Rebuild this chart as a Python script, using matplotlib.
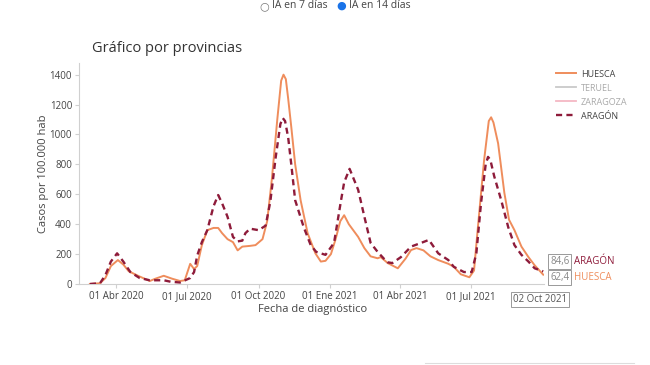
import numpy as np
import pandas as pd
import matplotlib
matplotlib.use('Agg')
import matplotlib.pyplot as plt
import matplotlib.dates as mdates
from matplotlib.lines import Line2D

plt.rcParams['font.family'] = ['Open Sans', 'DejaVu Sans']

# IA 14 dias - HUESCA
huesca_fechas = [
    '2020-02-27', '2020-03-11', '2020-03-18', '2020-03-25', '2020-04-03', '2020-04-10',
    '2020-04-17', '2020-05-01', '2020-05-14', '2020-05-21', '2020-06-01', '2020-06-12',
    '2020-06-22', '2020-06-28', '2020-07-05', '2020-07-10', '2020-07-14', '2020-07-20',
    '2020-07-27', '2020-08-04', '2020-08-10', '2020-08-15', '2020-08-22', '2020-08-29',
    '2020-09-04', '2020-09-10', '2020-09-20', '2020-09-27', '2020-10-06', '2020-10-12',
    '2020-10-18', '2020-10-25', '2020-10-30', '2020-11-02', '2020-11-05', '2020-11-08',
    '2020-11-12', '2020-11-17', '2020-11-24', '2020-12-03', '2020-12-13', '2020-12-20',
    '2020-12-26', '2021-01-02', '2021-01-08', '2021-01-14', '2021-01-19', '2021-01-25',
    '2021-02-06', '2021-02-14', '2021-02-22', '2021-03-03', '2021-03-07', '2021-03-16',
    '2021-03-29', '2021-04-08', '2021-04-15', '2021-04-22', '2021-05-01', '2021-05-10',
    '2021-05-20', '2021-06-02', '2021-06-09', '2021-06-18', '2021-06-29', '2021-07-05',
    '2021-07-10', '2021-07-18', '2021-07-24', '2021-07-27', '2021-07-30', '2021-08-05',
    '2021-08-13', '2021-08-19', '2021-08-26', '2021-09-04', '2021-09-13', '2021-09-21',
    '2021-10-02']
huesca_ia = [
    0, 5, 40, 120, 160, 130,
    85, 50, 20, 35, 55, 35,
    20, 25, 135, 100, 120, 260,
    360, 375, 375, 340, 300, 280,
    225, 250, 255, 260, 300, 420,
    700, 1100, 1360, 1400, 1370, 1240,
    1050, 800, 560, 340, 205, 150,
    155, 200, 300, 420, 460, 400,
    315, 240, 185, 172, 180, 140,
    105, 170, 227, 240, 225, 185,
    160, 135, 115, 65, 45, 90,
    380, 830, 1090, 1115, 1080, 940,
    610, 430, 360, 250, 180, 125,
    62.4]

# IA 14 dias - ARAGON
aragon_fechas = [
    '2020-02-27', '2020-03-11', '2020-03-18', '2020-03-25', '2020-04-02', '2020-04-10',
    '2020-04-19', '2020-05-01', '2020-05-14', '2020-06-01', '2020-06-10', '2020-06-22',
    '2020-07-05', '2020-07-10', '2020-07-14', '2020-07-20', '2020-07-27', '2020-08-04',
    '2020-08-10', '2020-08-15', '2020-08-22', '2020-08-29', '2020-09-04', '2020-09-10',
    '2020-09-14', '2020-09-20', '2020-10-01', '2020-10-10', '2020-10-16', '2020-10-23',
    '2020-10-29', '2020-11-01', '2020-11-04', '2020-11-08', '2020-11-12', '2020-11-17',
    '2020-11-28', '2020-12-07', '2020-12-14', '2020-12-26', '2021-01-06', '2021-01-15',
    '2021-01-19', '2021-01-26', '2021-02-06', '2021-02-14', '2021-02-22', '2021-03-03',
    '2021-03-11', '2021-03-16', '2021-03-22', '2021-04-02', '2021-04-15', '2021-04-28',
    '2021-05-08', '2021-05-20', '2021-06-02', '2021-06-09', '2021-06-22', '2021-07-02',
    '2021-07-08', '2021-07-14', '2021-07-20', '2021-07-23', '2021-07-26', '2021-07-31',
    '2021-08-09', '2021-08-18', '2021-08-26', '2021-09-04', '2021-09-13', '2021-09-21',
    '2021-10-02']
aragon_ia = [
    0, 5, 60, 150, 205, 150,
    80, 40, 25, 25, 15, 10,
    40, 80, 190, 280, 360, 520,
    595, 540, 450, 315, 285, 290,
    340, 370, 360, 390, 550, 850,
    1070, 1110, 1090, 980, 800, 560,
    380, 260, 215, 195, 275, 560,
    680, 770, 630, 450, 275, 215,
    170, 145, 140, 180, 250, 275,
    295, 205, 160, 115, 80, 80,
    205, 540, 800, 850, 830, 720,
    560, 380, 260, 195, 150, 105,
    84.6]

tick_fechas = ['2020-04-01', '2020-07-01', '2020-10-01', '2021-01-01', '2021-04-01', '2021-07-01']
tick_textos = ['01 Abr 2020', '01 Jul 2020', '01 Oct 2020', '01 Ene 2021', '01 Abr 2021', '01 Jul 2021']

c_huesca = '#ef8d5c'
c_aragon = '#8e1b3a'
c_teruel = '#c9c9c9'
c_zaragoza = '#f5b8c4'
c_texto = '#444444'
c_eje = '#d0d0d0'

fig = plt.figure(figsize=(6.5, 3.65), dpi=100)
ax = fig.add_axes([79/650, 1 - 284/365, (544 - 79)/650, (284 - 63)/365])

xh = pd.to_datetime(huesca_fechas)
xa = pd.to_datetime(aragon_fechas)
ax.plot(xh, huesca_ia, color=c_huesca, lw=1.4, zorder=3)
ax.plot(xa, aragon_ia, color=c_aragon, lw=1.7, dashes=(2.6, 1.8), zorder=4)

ax.set_xlim(pd.Timestamp('2020-02-13'), pd.Timestamp('2021-10-03'))
ax.set_ylim(0, 1478)
ax.set_yticks([0, 200, 400, 600, 800, 1000, 1200, 1400])
ax.set_xticks(pd.to_datetime(tick_fechas))
ax.set_xticklabels(tick_textos)
ax.tick_params(axis='both', labelsize=7, colors=c_eje, labelcolor=c_texto, length=3, width=0.8)
ax.tick_params(axis='x', pad=2)
ax.tick_params(axis='y', pad=2)

for s in ['top', 'right']:
    ax.spines[s].set_visible(False)
for s in ['left', 'bottom']:
    ax.spines[s].set_color(c_eje)
    ax.spines[s].set_linewidth(0.8)

ax.set_ylabel('Casos por 100.000 hab', fontsize=8, color=c_texto)
ax.yaxis.set_label_coords(-0.064, 0.5)
ax.set_xlabel('Fecha de diagnóstico', fontsize=8, color=c_texto)
ax.xaxis.set_label_coords(0.503, -0.115)
ax.xaxis.label.set_va('center')

fig.text(92/650, 1 - 48/365, 'Gráfico por provincias', fontsize=10.5, color='#333333',
         va='center', ha='left')

# leyenda
handles = [Line2D([], [], color=c_huesca, lw=1.4),
           Line2D([], [], color=c_teruel, lw=1.3),
           Line2D([], [], color=c_zaragoza, lw=1.3),
           Line2D([], [], color=c_aragon, lw=1.7, dashes=(2.6, 1.8))]
nombres = ['HUESCA', 'TERUEL', 'ZARAGOZA', 'ARAGÓN']
leg = fig.legend(handles, nombres, loc='upper left', bbox_to_anchor=(552/650, 1 - 66/365),
                 frameon=False, fontsize=6.5, handlelength=2.3, handletextpad=0.5,
                 labelspacing=0.55, borderaxespad=0)
for t, c in zip(leg.get_texts(), [c_texto, '#aaaaaa', '#aaaaaa', c_texto]):
    t.set_color(c)

# etiquetas del ultimo valor
fin = xa[-1]
caja = dict(boxstyle='square,pad=0.2', fc='white', ec='#999999', lw=0.7)
ax.annotate('84,6', xy=(fin, aragon_ia[-1]), xytext=(5, 7), textcoords='offset points',
            fontsize=7, color='#888888', bbox=caja, va='center', ha='left',
            annotation_clip=False)
ax.annotate('ARAGÓN', xy=(fin, aragon_ia[-1]), xytext=(22, 7), textcoords='offset points',
            fontsize=7, color=c_aragon, va='center', ha='left', annotation_clip=False)
ax.annotate('62,4', xy=(fin, huesca_ia[-1]), xytext=(5, -2), textcoords='offset points',
            fontsize=7, color='#888888', bbox=caja, va='center', ha='left',
            annotation_clip=False)
ax.annotate('HUESCA', xy=(fin, huesca_ia[-1]), xytext=(22, -2), textcoords='offset points',
            fontsize=7, color=c_huesca, va='center', ha='left', annotation_clip=False)
ax.annotate('02 Oct 2021', xy=(fin, 0), xytext=(-2, -11), textcoords='offset points',
            fontsize=7, color='#555555', bbox=caja, va='center', ha='center',
            annotation_clip=False)

# selector de incidencia
fig.text(264/650, 1 - 6/365, '○', fontsize=8, color='#777777', ha='center', va='center',
         family=['DejaVu Sans'])
fig.text(272/650, 1 - 6/365, 'IA en 7 días', fontsize=7.5, color=c_texto, ha='left', va='center')
fig.text(341/650, 1 - 6/365, '●', fontsize=8, color='#1a73e8', ha='center', va='center',
         family=['DejaVu Sans'])
fig.text(349/650, 1 - 6/365, 'IA en 14 días', fontsize=7.5, color=c_texto, ha='left', va='center')

fig.add_artist(Line2D([425/650, 634/650], [1 - 363/365, 1 - 363/365], color='#dddddd', lw=0.8))

fig.savefig('out.png', dpi=100)
